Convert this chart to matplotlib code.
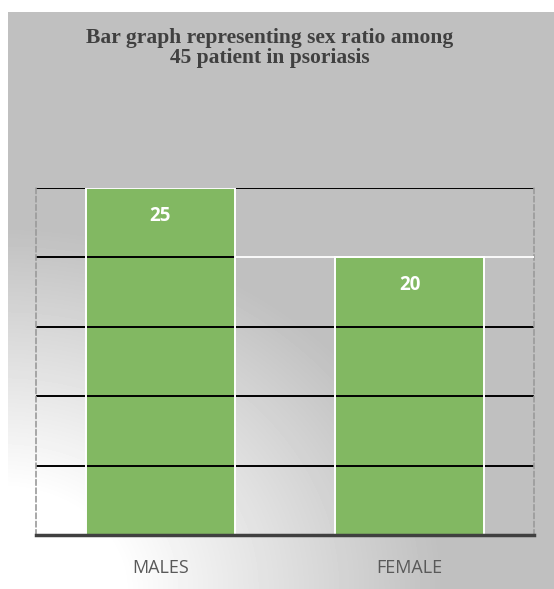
import matplotlib.pyplot as plt
import numpy as np

categories = ['MALES', 'FEMALE']
counts = [25, 20]
grid_values = [5, 10, 15, 20, 25]
title = 'Bar graph representing sex ratio among\n45 patient in psoriasis'

W, H = 554, 589
fig = plt.figure(figsize=(W / 100, H / 100), dpi=100)
fig.patch.set_facecolor('white')

# fond gris avec un degrade clair en bas a gauche
bg = fig.add_axes([8 / W, 0, 1 - 8 / W, 1 - 12 / H])
xx, yy = np.meshgrid(np.arange(8, W), np.arange(12, H))
d = np.hypot((xx - 0) * 0.9, (yy - H) * 1.1)
f = np.clip((d - 110) / 290, 0, 1)
val = 1 - 0.25 * f
bg.imshow(val, cmap='gray', vmin=0, vmax=1, aspect='auto',
          extent=[0, 1, 0, 1], origin='upper')
bg.set_axis_off()

ax = fig.add_axes([36 / W, 54 / H, 498 / W, (535 - 188) / H])
ax.set_facecolor('none')
x = np.arange(len(categories))
ax.bar(x, counts, 0.6, color='#82b862', edgecolor='none', zorder=1)

# lignes de grille noires (dessinees au-dessus des barres)
for g in grid_values:
    ax.axhline(g, color='black', lw=1.4, zorder=2)
# bords blancs des barres
ax.bar(x, counts, 0.6, color='none', edgecolor='white', lw=1.4, zorder=3)
ax.hlines(20, 0.3, 1.5, color='white', lw=1.4, zorder=3)

for xi, c in zip(x, counts):
    ax.text(xi, c - 2.0, str(c), ha='center', va='center', color='white',
            fontsize=13.5, fontweight='bold', family='Open Sans', zorder=4)

ax.set_xlim(-0.5, 1.5)
ax.set_ylim(0, 25)
ax.set_yticks([])
ax.set_xticks(x)
ax.set_xticklabels(categories, fontsize=13, color='#595959', family='Open Sans')
ax.tick_params(axis='x', length=0, pad=17)
ax.spines['top'].set_visible(False)
for s in ['left', 'right']:
    ax.spines[s].set_linestyle((0, (3, 2)))
    ax.spines[s].set_color('#9a9a9a')
    ax.spines[s].set_linewidth(1.2)
ax.spines['bottom'].set_color('#404040')
ax.spines['bottom'].set_linewidth(2.5)
ax.spines['bottom'].set_zorder(5)

fig.text(270 / W, 1 - 48 / H, title, ha='center', va='center',
         fontsize=15.5, fontweight='bold', family='Liberation Serif',
         color='#404040', linespacing=0.95)

fig.savefig('out.png', dpi=100)
